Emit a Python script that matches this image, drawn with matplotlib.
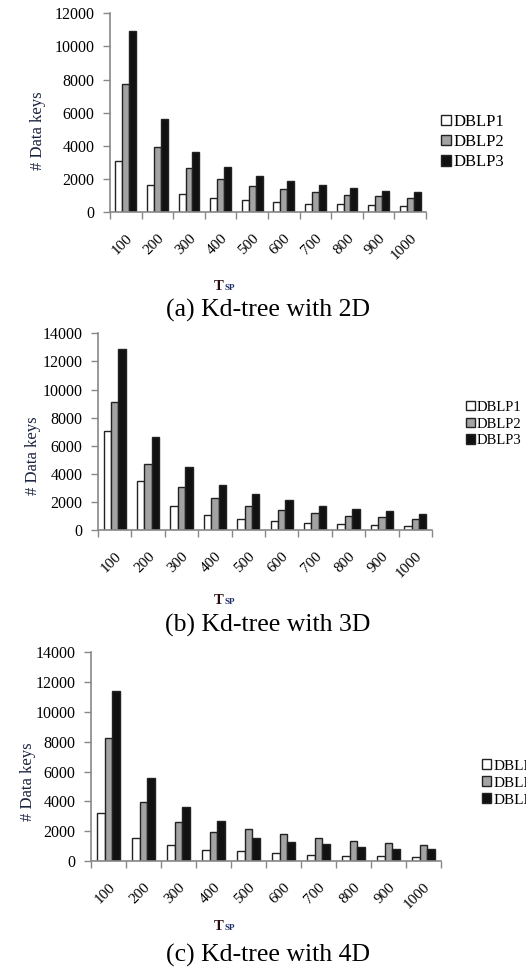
import numpy as np
import matplotlib
matplotlib.use("Agg")
import matplotlib.pyplot as plt

plt.rcParams['font.family'] = ['Liberation Serif', 'DejaVu Serif']

t_sp = ['100', '200', '300', '400', '500', '600', '700', '800', '900', '1000']
series_names = ['DBLP1', 'DBLP2', 'DBLP3']

# (a) Kd-tree with 2D
d2_dblp1 = [3080, 1610, 1090, 870, 710, 610, 510, 460, 410, 370]
d2_dblp2 = [7730, 3900, 2640, 1990, 1590, 1360, 1210, 1030, 960, 860]
d2_dblp3 = [10930, 5610, 3620, 2730, 2180, 1850, 1610, 1420, 1280, 1180]

# (b) Kd-tree with 3D
d3_dblp1 = [7080, 3530, 1720, 1110, 800, 660, 540, 420, 350, 310]
d3_dblp2 = [9130, 4700, 3060, 2290, 1720, 1410, 1220, 1010, 920, 780]
d3_dblp3 = [12850, 6660, 4470, 3220, 2590, 2120, 1720, 1510, 1340, 1150]

# (c) Kd-tree with 4D
d4_dblp1 = [3240, 1570, 1050, 770, 650, 540, 400, 360, 340, 290]
d4_dblp2 = [8280, 3960, 2640, 1960, 2170, 1830, 1540, 1360, 1230, 1050]
d4_dblp3 = [11430, 5590, 3650, 2700, 1570, 1300, 1140, 960, 830, 800]

captions = ['(a) Kd-tree with 2D', '(b) Kd-tree with 3D', '(c) Kd-tree with 4D']

W, H = 526, 974
fig = plt.figure(figsize=(W / 100, H / 100), dpi=100)

def px(l, r, t, b):
    return [l / W, 1 - b / H, (r - l) / W, (b - t) / H]

# caixas em pixels de cada painel (leg = canto esquerdo, centro vertical)
paineis = [
    dict(box=(110, 426, 13.3, 212), ymax=12000, data=(d2_dblp1, d2_dblp2, d2_dblp3),
         ylab=(38, 131), leg=(441, 142), legfs=12, tsp=(224, 290), cap=(268, 310)),
    dict(box=(98, 432, 333.3, 530.3), ymax=14000, data=(d3_dblp1, d3_dblp2, d3_dblp3),
         ylab=(33, 456), leg=(466, 424), legfs=10.5, tsp=(224, 604), cap=(268, 625)),
    dict(box=(91, 441, 652.3, 861), ymax=14000, data=(d4_dblp1, d4_dblp2, d4_dblp3),
         ylab=(28, 782), leg=(482, 783), legfs=11, tsp=(224, 930), cap=(268, 955)),
]

cores = ['white', '#a3a3a3', '#111111']
w = 0.22
x = np.arange(len(t_sp))

for k, p in enumerate(paineis):
    ax = fig.add_axes(px(*p['box']))
    for j, vals in enumerate(p['data']):
        ax.bar(x + (j - 1) * w, vals, w, color=cores[j], edgecolor='#222222',
               linewidth=1.0, label=series_names[j])
    ax.set_xlim(-0.5, len(t_sp) - 0.5)
    ax.set_ylim(0, p['ymax'])
    ax.set_yticks(np.arange(0, p['ymax'] + 1, 2000))
    ax.tick_params(axis='y', labelsize=11.5, length=5, width=1, color='#888888', pad=6)
    # rótulos no centro, marcas nas divisões dos grupos
    ax.set_xticks(x)
    ax.set_xticklabels(t_sp, rotation=45, ha='right', va='top', rotation_mode='anchor', fontsize=11)
    ax.tick_params(axis='x', length=0, pad=14)
    ax.set_xticks(np.arange(-0.5, len(t_sp)), minor=True)
    ax.tick_params(axis='x', which='minor', length=5, width=1, color='#888888', direction='out')
    for s in ['top', 'right']:
        ax.spines[s].set_visible(False)
    for s in ['left', 'bottom']:
        ax.spines[s].set_color('#888888')
        ax.spines[s].set_linewidth(1.2)

    fig.text(p['ylab'][0] / W, 1 - p['ylab'][1] / H, '# Data keys', rotation=90,
             ha='center', va='center', fontsize=12, color='#1c2340')

    h, l = ax.get_legend_handles_labels()
    fig.legend(h, l, loc='center left', bbox_to_anchor=(p['leg'][0] / W, 1 - p['leg'][1] / H),
               frameon=False, fontsize=p['legfs'], handlelength=0.6, handleheight=0.6,
               handletextpad=0.15, labelspacing=0.25, borderaxespad=0, borderpad=0)

    tx, ty = p['tsp']
    fig.text(tx / W, 1 - ty / H, 'T', ha='right', va='baseline', fontsize=10.5,
             fontweight='bold', color='#2a0c0c')
    fig.text((tx + 1) / W, 1 - ty / H, 'SP', ha='left', va='baseline', fontsize=6.5,
             fontweight='bold', color='#1c2a66')

    fig.text(p['cap'][0] / W, 1 - p['cap'][1] / H, captions[k], ha='center', va='center',
             fontsize=18.5)

fig.savefig('out.png', dpi=100)
